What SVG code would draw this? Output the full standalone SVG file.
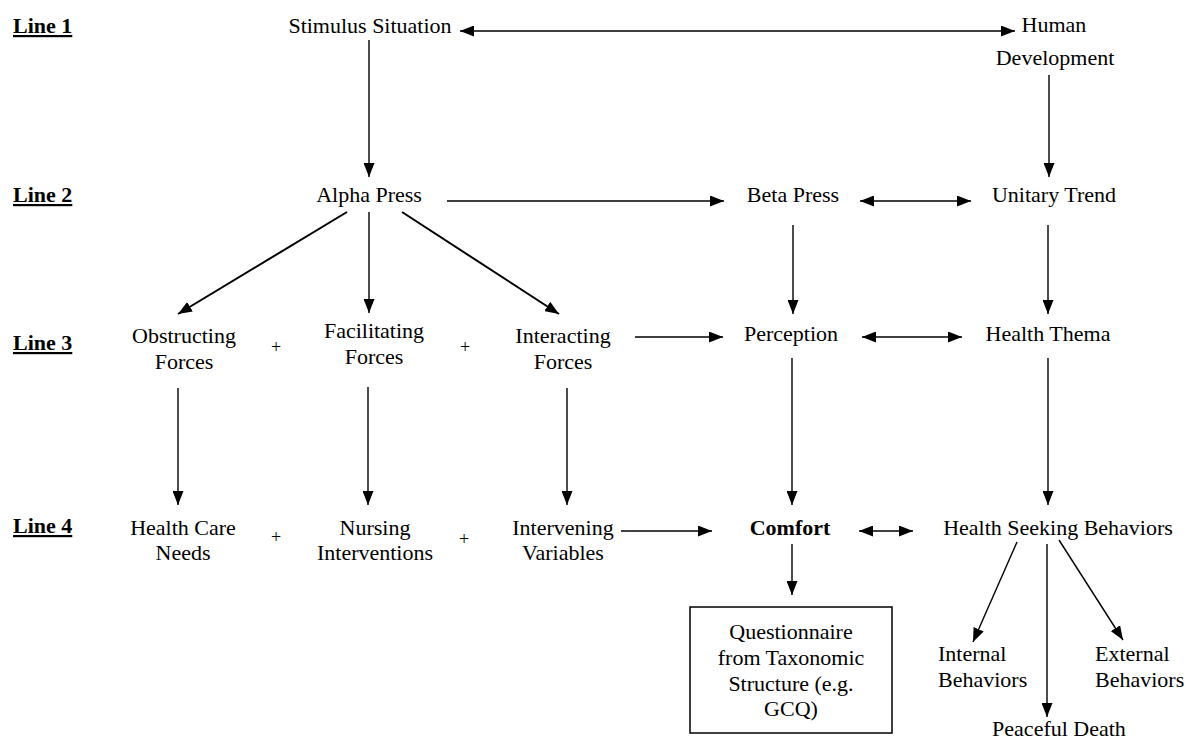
<svg xmlns="http://www.w3.org/2000/svg" width="1186" height="740" viewBox="0 0 1186 740">
<defs>
<style>
text{font-family:"Liberation Serif","Times New Roman",serif;font-size:22px;fill:#000;text-anchor:middle}
.lbl{font-weight:bold;text-anchor:start;text-decoration:underline}
.st{text-anchor:start}
.b{font-weight:bold}
.op{font-size:18px}
.c line,.c path{stroke:#000;stroke-width:1.4;fill:none}
.c .thick{stroke-width:2}
</style>
<marker id="ah" viewBox="0 0 14 11" refX="14" refY="5.5" markerWidth="14" markerHeight="11" markerUnits="userSpaceOnUse" orient="auto-start-reverse">
<path d="M0,0 L14,5.5 L0,11 z" fill="#000"/>
</marker>
</defs>
<rect width="1186" height="740" fill="#fff"/>
<g id="line-labels">
<text class="lbl" x="13" y="33">Line 1</text>
<text class="lbl" x="13" y="202">Line 2</text>
<text class="lbl" x="13" y="350">Line 3</text>
<text class="lbl" x="13" y="533">Line 4</text>
</g>
<g id="stimulus"><text x="370" y="33">Stimulus Situation</text></g>
<g id="human-dev"><text x="1054" y="32">Human</text><text x="1055" y="65">Development</text></g>
<g id="alpha"><text x="369" y="202">Alpha Press</text></g>
<g id="beta"><text x="793" y="202">Beta Press</text></g>
<g id="unitary"><text x="1054" y="202">Unitary Trend</text></g>
<g id="obstructing"><text x="184" y="343">Obstructing</text><text x="184" y="369">Forces</text></g>
<g id="facilitating"><text x="374" y="338">Facilitating</text><text x="374" y="364">Forces</text></g>
<g id="interacting"><text x="563" y="343">Interacting</text><text x="563" y="369">Forces</text></g>
<g id="perception"><text x="791" y="341">Perception</text></g>
<g id="health-thema"><text x="1048" y="341">Health Thema</text></g>
<g id="ops">
<text class="op" x="276" y="353">+</text>
<text class="op" x="465" y="353">+</text>
<text class="op" x="276" y="543">+</text>
<text class="op" x="464" y="545">+</text>
</g>
<g id="hc-needs"><text x="183" y="535">Health Care</text><text x="183" y="560">Needs</text></g>
<g id="nursing"><text x="375" y="535">Nursing</text><text x="375" y="560">Interventions</text></g>
<g id="intervening"><text x="563" y="535">Intervening</text><text x="563" y="560">Variables</text></g>
<g id="comfort"><text class="b" x="790" y="535">Comfort</text></g>
<g id="hsb"><text x="1058" y="535">Health Seeking Behaviors</text></g>
<g id="questionnaire">
<rect x="690" y="607" width="202" height="126" fill="none" stroke="#000" stroke-width="1.5"/>
<text x="791" y="639">Questionnaire</text>
<text x="791" y="665">from Taxonomic</text>
<text x="791" y="691">Structure (e.g.</text>
<text x="791" y="716">GCQ)</text>
</g>
<g id="internal"><text class="st" x="938" y="661">Internal</text><text class="st" x="938" y="687">Behaviors</text></g>
<g id="external"><text class="st" x="1095" y="661">External</text><text class="st" x="1095" y="687">Behaviors</text></g>
<g id="peaceful"><text x="1059" y="736">Peaceful Death</text></g>
<g id="connectors" class="c">
<line x1="460" y1="31" x2="1015" y2="31" marker-start="url(#ah)" marker-end="url(#ah)"/>
<line x1="369" y1="40" x2="369" y2="177" marker-end="url(#ah)"/>
<line x1="1049" y1="75" x2="1049" y2="177" marker-end="url(#ah)"/>
<line x1="447" y1="201" x2="724" y2="201" marker-end="url(#ah)"/>
<line x1="860" y1="201" x2="971" y2="201" marker-start="url(#ah)" marker-end="url(#ah)"/>
<line class="thick" x1="347" y1="212" x2="178" y2="314" marker-end="url(#ah)"/>
<line x1="369" y1="212" x2="369" y2="313" marker-end="url(#ah)"/>
<line class="thick" x1="402" y1="212" x2="559" y2="314" marker-end="url(#ah)"/>
<line x1="793" y1="225" x2="793" y2="314" marker-end="url(#ah)"/>
<line x1="1048" y1="225" x2="1048" y2="314" marker-end="url(#ah)"/>
<line x1="635" y1="337" x2="723" y2="337" marker-end="url(#ah)"/>
<line x1="862" y1="337" x2="962" y2="337" marker-start="url(#ah)" marker-end="url(#ah)"/>
<line x1="178" y1="388" x2="178" y2="505" marker-end="url(#ah)"/>
<line x1="368" y1="387" x2="368" y2="505" marker-end="url(#ah)"/>
<line x1="567" y1="388" x2="567" y2="505" marker-end="url(#ah)"/>
<line x1="792" y1="358" x2="792" y2="505" marker-end="url(#ah)"/>
<line x1="1048" y1="358" x2="1048" y2="505" marker-end="url(#ah)"/>
<line x1="621" y1="531" x2="712" y2="531" marker-end="url(#ah)"/>
<line x1="859" y1="531" x2="913" y2="531" marker-start="url(#ah)" marker-end="url(#ah)"/>
<line x1="792" y1="544" x2="792" y2="595" marker-end="url(#ah)"/>
<line x1="1017" y1="542" x2="973" y2="642" marker-end="url(#ah)"/>
<line x1="1047" y1="544" x2="1047" y2="717" marker-end="url(#ah)"/>
<line x1="1059" y1="540" x2="1123" y2="640" marker-end="url(#ah)"/>
</g>
</svg>
